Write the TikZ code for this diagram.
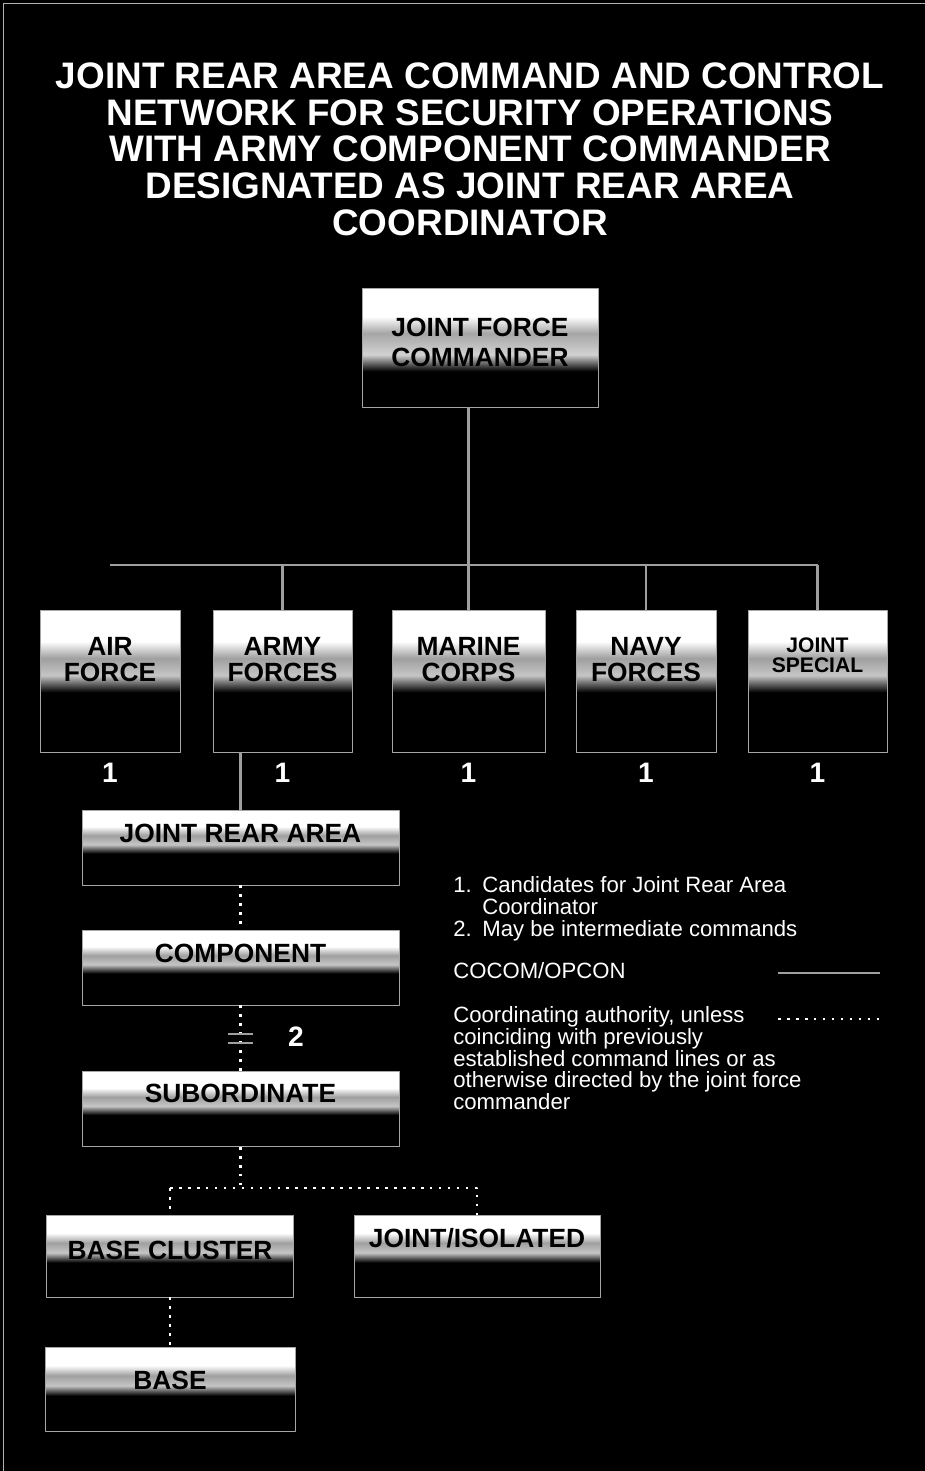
\documentclass[tikz,border=0pt]{standalone}
\usepackage{fontspec}
\setmainfont{Liberation Sans}
\usetikzlibrary{positioning}
\pgfdeclareverticalshading{fade}{100bp}{color(0bp)=(black); color(46bp)=(black); color(52bp)=(gray!45); color(58bp)=(gray!75); color(64bp)=(white); color(100bp)=(white)}
\pgfdeclareverticalshading{fadelow}{100bp}{color(0bp)=(black); color(40bp)=(black); color(47bp)=(gray!35); color(56bp)=(gray!70); color(63bp)=(white); color(100bp)=(white)}
\tikzset{
	box/.style={draw=gray!70, line width=0.5pt, shading=fade, inner sep=0pt},
	boxtext/.style={inner sep=0pt, align=center, text=black, font=\bfseries\fontsize{15}{15}\selectfont},
	num/.style={inner sep=0pt, text=white, font=\bfseries\fontsize{16}{16}\selectfont},
	cmd/.style={draw=gray!75, line width=1.6pt},
	coord/.style={draw=white, line width=1.5pt, dash pattern=on 1.5pt off 3.6pt},
	note/.style={inner sep=0pt, text=white, align=left, anchor=north west, font=\fontsize{12.6}{12.3}\selectfont}
}
\begin{document}
\begin{tikzpicture}[x=0.02cm, y=-0.02cm, line join=round]
		\useasboundingbox (0,0) rectangle (925,1471);
		\fill[black] (0,0) rectangle (925,1471);
		\draw[gray!60, line width=0.5pt] (3,1471) -- (3,3) -- (925,3);
		\node[inner sep=0pt, anchor=north, align=center, text=white, font=\bfseries\fontsize{21}{21}\selectfont] (title) at (470,62)
		{JOINT REAR AREA COMMAND AND CONTROL\\NETWORK FOR SECURITY OPERATIONS\\WITH ARMY COMPONENT COMMANDER\\DESIGNATED AS JOINT REAR AREA\\COORDINATOR};
		% commands
		\node[box, shading=fadelow, minimum width=4.72cm, minimum height=2.38cm] (jfc) at (480,347.5) {};
		\node[boxtext, font=\bfseries\fontsize{15}{17}\selectfont, below=0.6cm of jfc.north] (jfc-t) {JOINT FORCE\\COMMANDER};
		\node[box, minimum width=2.8cm, minimum height=2.84cm] (af) at (110,681) {};
		\node[box, minimum width=2.78cm, minimum height=2.84cm] (arf) at (282.5,681) {};
		\node[box, minimum width=3.06cm, minimum height=2.84cm] (mc) at (468.5,681) {};
		\node[box, minimum width=2.8cm, minimum height=2.84cm] (nf) at (646,681) {};
		\node[box, minimum width=2.78cm, minimum height=2.84cm] (js) at (817.5,681) {};
		\node[boxtext, below=0.54cm of af.north] (af-t) {AIR\\FORCE};
		\node[boxtext, below=0.54cm of arf.north] (arf-t) {ARMY\\FORCES};
		\node[boxtext, below=0.54cm of mc.north] (mc-t) {MARINE\\CORPS};
		\node[boxtext, below=0.54cm of nf.north] (nf-t) {NAVY\\FORCES};
		\node[boxtext, font=\bfseries\fontsize{12}{11.5}\selectfont, below=0.55cm of js.north] (js-t) {JOINT\\SPECIAL};
		\foreach \b in {af,arf,mc,nf,js}
		\node[num, below=0.2cm of \b] (\b-n) {1};
		\node[box, minimum width=6.34cm, minimum height=1.5cm] (jra) at (240.5,847.5) {};
		\node[box, minimum width=6.34cm, minimum height=1.5cm] (comp) at (240.5,967.5) {};
		\node[box, minimum width=6.34cm, minimum height=1.5cm] (sub) at (240.5,1109) {};
		\node[boxtext, below=0.28cm of jra.north] (jra-t) {JOINT REAR AREA};
		\node[boxtext, below=0.28cm of comp.north] (comp-t) {COMPONENT};
		\node[boxtext, below=0.26cm of sub.north] (sub-t) {SUBORDINATE};
		\node[box, minimum width=4.94cm, minimum height=1.64cm] (bc) at (170,1256) {};
		\node[box, minimum width=4.92cm, minimum height=1.64cm] (ji) at (477,1256) {};
		\node[box, minimum width=5cm, minimum height=1.68cm] (base) at (170,1389) {};
		\node[boxtext, below=0.52cm of bc.north] (bc-t) {BASE CLUSTER};
		\node[boxtext, below=0.26cm of ji.north] (ji-t) {JOINT/ISOLATED};
		\node[boxtext, below=0.48cm of base.north] (base-t) {BASE};
		% links
		\path
		(0,565) coordinate (bus)
		(0,1188) coordinate (fork)
		(240.5,1038.5) coordinate (brk);
		\draw[cmd] (jfc.south -| mc.north) -- (mc.north);
		\draw[cmd] (af.north |- bus) -- (js.north |- bus);
		\foreach \b in {arf,nf,js}
		\draw[cmd] (\b.north |- bus) -- (\b.north);
		\draw[cmd] (arf.south -| jra.north) -- (jra.north);
		\draw[coord] (jra.south) -- (comp.north);
		\draw[coord] (comp.south) -- (sub.north);
		\draw[gray!75, line width=1pt] ([xshift=-0.26cm, yshift=0.09cm]brk) -- ([xshift=0.26cm, yshift=0.09cm]brk)
		([xshift=-0.26cm, yshift=-0.09cm]brk) -- ([xshift=0.26cm, yshift=-0.09cm]brk);
		\node[num] (two) at (296,1037) {2};
		\draw[coord] (sub.south) -- (sub.south |- fork);
		\draw[coord] (bc.north |- fork) -- (ji.north |- fork) -- (ji.north);
		\draw[coord] (bc.north |- fork) -- (bc.north);
		\draw[coord] (bc.south) -- (base.north);
		% key
		\node[note] (notes) at (453,876.5) {\makebox[0.58cm][l]{1.}Candidates for Joint Rear Area\\\hspace*{0.58cm}Coordinator\\\makebox[0.58cm][l]{2.}May be intermediate commands};
		\node[note] (cocom) at (453,962.5) {COCOM/OPCON};
		\node[note] (coordtxt) at (453,1006.5) {Coordinating authority, unless\\coinciding with previously\\established command lines or as\\otherwise directed by the joint force\\commander};
		\path
		(778,973) coordinate (k1a)
		(880,973) coordinate (k1b)
		(778,1019) coordinate (k2a)
		(880,1019) coordinate (k2b);
		\draw[cmd] (k1a) -- (k1b);
		\draw[coord] (k2a) -- (k2b);
	\end{tikzpicture}
\end{document}
